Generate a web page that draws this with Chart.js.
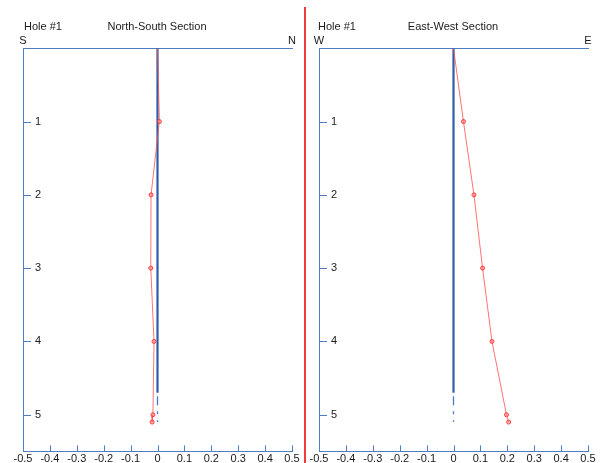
<!DOCTYPE html>
<html>
<head>
<meta charset="utf-8">
<script src="https://cdn.jsdelivr.net/npm/chart.js@4/dist/chart.umd.min.js"></script>
<style>
    html, body { margin: 0; padding: 0; background: #fff; overflow: hidden; }
    body { width: 603px; height: 463px; position: relative; font: 11px 'Liberation Sans', Arial, sans-serif; color: #1a1a1a; }
    canvas { position: absolute; top: 0; }
    .lbl { position: absolute; line-height: 13px; white-space: nowrap; }
    .center { width: 200px; text-align: center; }
    #sep { position: absolute; left: 304px; top: 7px; width: 2px; bottom: 0; background: #ee3b3b; }
</style>
</head>
<body>
<canvas id="ns" width="303" height="470" style="left:-1px"></canvas>
<canvas id="ew" width="303" height="470" style="left:295px"></canvas>
<div id="sep"></div>
<div class="lbl" style="left:24px;top:20px">Hole #1</div>
<div class="lbl center" style="left:57px;top:20px">North-South Section</div>
<div class="lbl" style="left:318px;top:20px">Hole #1</div>
<div class="lbl center" style="left:353px;top:20px">East-West Section</div>
<script>
// Profondeurs des mesures (axe vertical, inversé)
const surveyDepth = [0, 1, 2, 3, 4, 5, 5.1];
// Déviation lue sur chaque coupe
const nsOffset = [0, 0.007, -0.024, -0.025, -0.013, -0.017, -0.02];
const ewOffset = [0, 0.037, 0.076, 0.108, 0.143, 0.197, 0.205];
const surveyRadius = [0, 2, 2, 2, 2, 2, 2];

// Trou prévu : trait plein puis prolongement en tirets
const planDepth = [0, 4.7];
const planOffset = [0, 0];
const planExtDepth = [4.7, 5.1];
const planExtOffset = [0, 0];

// Graduations
const depthTicks = [1, 2, 3, 4, 5];
const offsetTicks = [-0.5, -0.4, -0.3, -0.2, -0.1, 0, 0.1, 0.2, 0.3, 0.4, 0.5];
const nsEnds = ['S', 'N'];
const ewEnds = ['W', 'E'];

const axisColor = '#4f7dc4';

Chart.defaults.font.family = "'Liberation Sans', Arial, sans-serif";
Chart.defaults.font.size = 11;
Chart.defaults.color = '#1a1a1a';

const toPoints = (xs, ys) => xs.map((x, i) => ({ x: x, y: ys[i] }));

// Petites graduations dessinées vers l'intérieur du cadre
const innerTicks = {
    id: 'innerTicks',
    afterDraw(chart) {
        const { ctx, chartArea, scales } = chart;
        ctx.save();
        ctx.strokeStyle = axisColor;
        ctx.lineWidth = 1;
        ctx.beginPath();
        scales.y.ticks.forEach(t => {
            const py = Math.round(scales.y.getPixelForValue(t.value)) + 0.5;
            ctx.moveTo(chartArea.left, py);
            ctx.lineTo(chartArea.left + 8, py);
        });
        scales.x.ticks.forEach(t => {
            const px = Math.round(scales.x.getPixelForValue(t.value)) + 0.5;
            ctx.moveTo(px, chartArea.bottom);
            ctx.lineTo(px, chartArea.bottom - 6);
        });
        ctx.stroke();
        ctx.restore();
    }
};

const makeSection = (canvasId, offsets, ends) => {
    const ctx = document.getElementById(canvasId).getContext('2d');
    return new Chart(ctx, {
        type: 'scatter',
        data: {
            datasets: [
                {
                    data: toPoints(offsets, surveyDepth),
                    showLine: true,
                    borderColor: 'rgba(255, 80, 80, 0.8)',
                    borderWidth: 1,
                    pointRadius: surveyRadius,
                    pointBorderWidth: 1,
                    pointBorderColor: '#ff3b3b',
                    pointBackgroundColor: 'rgba(255, 120, 120, 0.5)'
                },
                {
                    data: toPoints(planOffset, planDepth),
                    showLine: true,
                    borderColor: '#2e5ca8',
                    borderWidth: 2.2,
                    pointRadius: 0
                },
                {
                    data: toPoints(planExtOffset, planExtDepth),
                    showLine: true,
                    borderColor: '#4b7bc4',
                    borderWidth: 1.3,
                    borderDash: [9, 6, 3, 6],
                    borderDashOffset: 20.6,
                    pointRadius: 0
                }
            ]
        },
        options: {
            responsive: false,
            animation: false,
            devicePixelRatio: 1,
            layout: { padding: { top: 33, left: 0, right: 10, bottom: 0 } },
            plugins: { legend: { display: false }, tooltip: { enabled: false } },
            scales: {
                x: {
                    type: 'linear',
                    position: 'bottom',
                    min: -0.5,
                    max: 0.5,
                    afterBuildTicks: s => { s.ticks = offsetTicks.map(v => ({ value: v })); },
                    ticks: { padding: 1, autoSkip: false, maxRotation: 0, callback: v => String(v) },
                    grid: { drawOnChartArea: false, drawTicks: false },
                    border: { color: axisColor, width: 1 }
                },
                x2: {
                    type: 'linear',
                    position: 'top',
                    min: -0.5,
                    max: 0.5,
                    afterBuildTicks: s => { s.ticks = [{ value: -0.5 }, { value: 0.5 }]; },
                    ticks: { padding: 1, autoSkip: false, maxRotation: 0, callback: (v, i) => ends[i] },
                    grid: { drawOnChartArea: false, drawTicks: false },
                    border: { color: axisColor, width: 1 }
                },
                y: {
                    type: 'linear',
                    position: 'left',
                    reverse: true,
                    min: 0,
                    max: 5.5,
                    afterBuildTicks: s => { s.ticks = depthTicks.map(v => ({ value: v })); },
                    ticks: { mirror: true, padding: 12 },
                    grid: { drawOnChartArea: false, drawTicks: false },
                    border: { color: axisColor, width: 1 }
                }
            }
        },
        plugins: [innerTicks]
    });
};

makeSection('ns', nsOffset, nsEnds);
makeSection('ew', ewOffset, ewEnds);
</script>
</body>
</html>
